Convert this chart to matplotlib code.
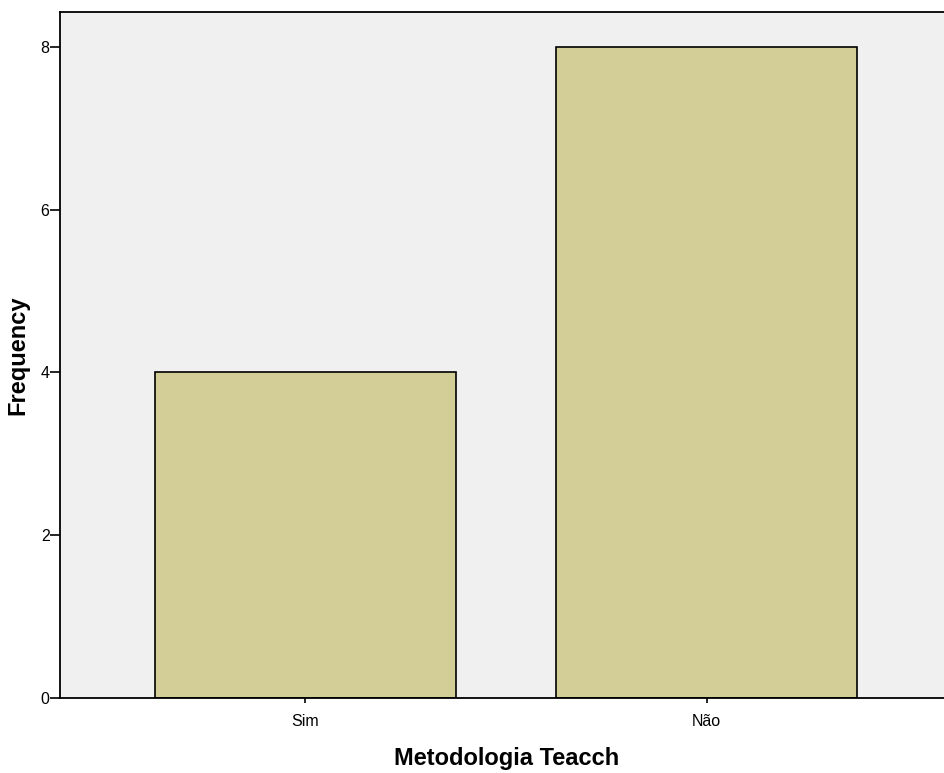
import matplotlib.pyplot as plt

categories = ["Sim", "Não"]
frequency = [4, 8]
y_ticks = [0, 2, 4, 6, 8]

W, H = 944, 773
fig = plt.figure(figsize=(W / 100, H / 100), dpi=100)
ax = fig.add_axes([60 / W, 1 - 698 / H, 1 - 60 / W + 0.01, (698 - 12) / H])
ax.set_facecolor("#f0f0f0")

x = range(len(categories))
ax.bar(x, frequency, width=0.75, color="#d3ce97", edgecolor="black", linewidth=1.2)

ax.set_xlim(-0.611, 1.615)
ax.set_ylim(0, 8.43)
ax.set_xticks(list(x))
ax.set_xticklabels(categories, fontsize=11.5, family="Liberation Sans")
ax.set_yticks(y_ticks)
ax.set_yticklabels([str(v) for v in y_ticks], fontsize=11.5, family="Liberation Sans")
ax.tick_params(axis="y", length=7.5, width=1.2, pad=0)
ax.tick_params(axis="x", length=3.5, width=1.2, pad=8)

for side in ["left", "bottom", "top"]:
    ax.spines[side].set_linewidth(1.3)
ax.spines["right"].set_visible(False)

ax.set_xlabel("Metodologia Teacch", fontsize=17, fontweight="bold", family="Liberation Sans", labelpad=13)
ax.set_ylabel("Frequency", fontsize=17, fontweight="bold", family="Liberation Sans", labelpad=8)

fig.savefig("out.png", dpi=100)
